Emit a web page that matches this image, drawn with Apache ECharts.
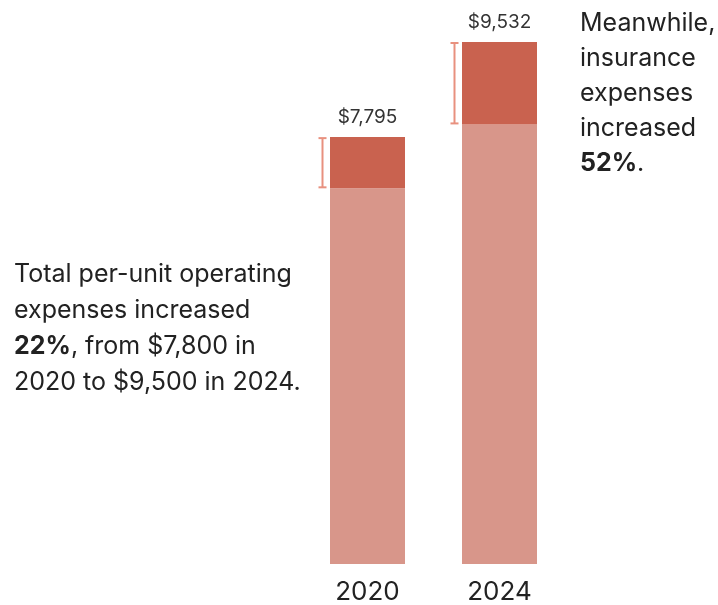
<!DOCTYPE html>
<html>
<head>
<meta charset="utf-8">
<script src="https://cdn.jsdelivr.net/npm/echarts@6/dist/echarts.min.js"></script>
<style>
  html, body { margin: 0; padding: 0; background: #fff; }
  #main { width: 718px; height: 605px; }
</style>
</head>
<body>
<div id="main"></div>
<script>
// per-unit operating expenses, split into insurance and everything else
var years = ['2020', '2024'];
var otherExpenses = [6860, 8027];
var insurance = [935, 1505];
var totals = [7795, 9532];

var chart = echarts.init(document.getElementById('main'));

var FONT = 'Inter, Roboto, sans-serif';

var option = {
    animation: false,
    grid: { left: 301.5, width: 264, top: 42, bottom: 41 },
    xAxis: {
        type: 'category',
        data: years,
        axisLine: { show: false },
        axisTick: { show: false },
        axisLabel: { fontSize: 26, color: '#222', margin: 15, fontFamily: FONT }
    },
    yAxis: {
        type: 'value',
        min: 0,
        max: function (v) { return v.max; },
        show: false,
        splitLine: { show: false }
    },
    series: [
        {
            name: 'Other',
            type: 'bar',
            stack: 'total',
            barWidth: 75,
            itemStyle: { color: '#d8968a' },
            data: otherExpenses
        },
        {
            name: 'Insurance',
            type: 'bar',
            stack: 'total',
            barWidth: 75,
            itemStyle: { color: '#c9624f' },
            label: {
                show: true,
                position: 'top',
                distance: 10,
                fontSize: 19,
                color: '#333',
                fontFamily: FONT,
                formatter: function (p) {
                    return '$' + totals[p.dataIndex].toLocaleString('en-US');
                }
            },
            data: insurance
        },
        {
            // bracket beside the insurance segment
            type: 'custom',
            silent: true,
            z: 5,
            renderItem: function (params, api) {
                var top = api.coord([api.value(0), api.value(2)]);
                var bot = api.coord([api.value(0), api.value(1)]);
                var x = top[0] - 75 / 2 - 7.5;
                var style = { stroke: '#e8917f', lineWidth: 2 };
                return {
                    type: 'group',
                    children: [
                        { type: 'line', shape: { x1: x, y1: top[1] + 1, x2: x, y2: bot[1] - 1 }, style: style },
                        { type: 'line', shape: { x1: x - 4, y1: top[1] + 1, x2: x + 4, y2: top[1] + 1 }, style: style },
                        { type: 'line', shape: { x1: x - 4, y1: bot[1] - 1, x2: x + 4, y2: bot[1] - 1 }, style: style }
                    ]
                };
            },
            data: years.map(function (y, i) { return [i, otherExpenses[i], totals[i]]; })
        }
    ],
    graphic: [
        {
            type: 'text',
            left: 14,
            top: 256,
            style: {
                text: 'Total per-unit operating\nexpenses increased\n{b|22%}, from $7,800 in\n2020 to $9,500 in 2024.',
                fontSize: 25,
                lineHeight: 36,
                fill: '#222',
                fontFamily: FONT,
                rich: {
                    b: { fontSize: 25, fontWeight: 'bold', fill: '#222', fontFamily: FONT, lineHeight: 36 }
                }
            }
        },
        {
            type: 'text',
            left: 580,
            top: 6,
            style: {
                text: 'Meanwhile,\ninsurance\nexpenses\nincreased\n{b|52%}.',
                fontSize: 25,
                lineHeight: 35,
                fill: '#222',
                fontFamily: FONT,
                rich: {
                    b: { fontSize: 25, fontWeight: 'bold', fill: '#222', fontFamily: FONT, lineHeight: 35 }
                }
            }
        }
    ]
};

chart.setOption(option);
</script>
</body>
</html>
